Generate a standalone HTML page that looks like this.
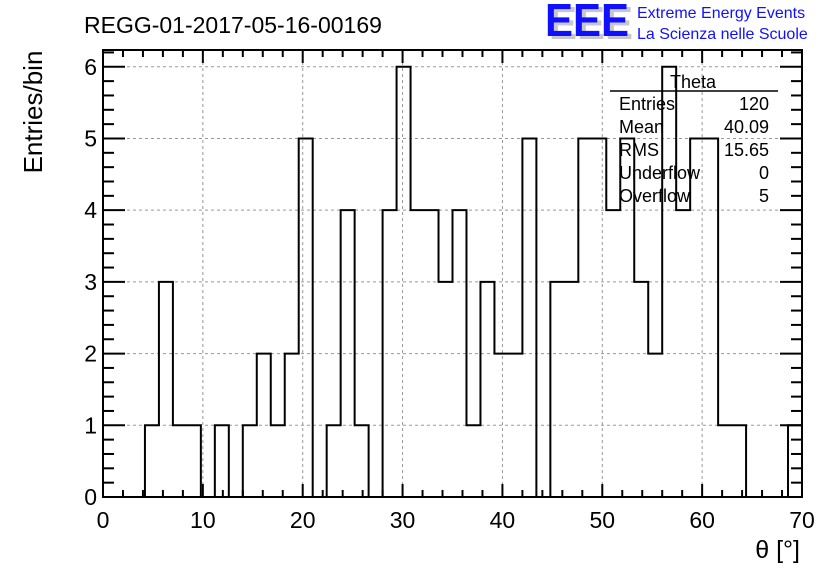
<!DOCTYPE html>
<html><head><meta charset="utf-8"><style>
html,body{margin:0;padding:0;background:#fff;}
svg{display:block;font-family:"Liberation Sans",sans-serif;}
</style></head><body>
<svg id="chart" width="836" height="572" viewBox="0 0 836 572">
  <rect x="0" y="0" width="836" height="572" fill="#fff"/>
  <g id="grid"></g>
  <g id="ticks"></g>
  <path id="hist" fill="none" stroke="#000" stroke-width="2"/>
  <rect x="103" y="50" width="699" height="447" fill="none" stroke="#000" stroke-width="2"/>
  <g id="labels"></g>
  <text x="84" y="33" font-size="23">REGG-01-2017-05-16-00169</text>
  <text transform="translate(42,112) rotate(-90)" font-size="26" text-anchor="middle">Entries/bin</text>
  <text x="800" y="558" font-size="25" text-anchor="end">θ [°]</text>
  <g>
    <text x="549" y="39" font-size="46" fill="#c8c8c8" font-weight="bold" textLength="84" lengthAdjust="spacingAndGlyphs">EEE</text>
    <text x="545" y="36" font-size="46" fill="#1010ff" font-weight="bold" textLength="84" lengthAdjust="spacingAndGlyphs">EEE</text>
    <text x="637" y="18" font-size="16" fill="#1010ff">Extreme Energy Events</text>
    <text x="637" y="39" font-size="16" fill="#1010ff">La Scienza nelle Scuole</text>
  </g>
  <g font-size="18">
    <text x="693" y="88" text-anchor="middle">Theta</text>
    <line x1="610" y1="91" x2="778" y2="91" stroke="#000" stroke-width="1.5"/>
    <text x="619" y="110">Entries</text><text x="769" y="110" text-anchor="end">120</text>
    <text x="619" y="133">Mean</text><text x="769" y="133" text-anchor="end">40.09</text>
    <text x="619" y="156">RMS</text><text x="769" y="156" text-anchor="end">15.65</text>
    <text x="619" y="179">Underflow</text><text x="769" y="179" text-anchor="end">0</text>
    <text x="619" y="202">Overflow</text><text x="769" y="202" text-anchor="end">5</text>
  </g>
</svg>
<script>
const binCounts = [0,0,0,1,3,1,1,0,1,0,1,2,1,2,5,0,1,4,1,0,4,6,4,4,3,4,1,3,2,2,5,0,3,3,5,5,4,5,3,2,6,4,5,5,1,1,0,0,0,1];
const binWidth = [1.4];
const xTickLabels = ["0","10","20","30","40","50","60","70"];
const yTickLabels = ["0","1","2","3","4","5","6"];

const NS = "http://www.w3.org/2000/svg";
const X0 = 103, X1 = 802, Y0 = 497, Y1 = 50;
const xMin = 0, xMax = 70, yMin = 0, yMax = 6.234;
function sx(v){ return X0 + (v - xMin) / (xMax - xMin) * (X1 - X0); }
function sy(v){ return Y0 - (v - yMin) / (yMax - yMin) * (Y0 - Y1); }
function mk(tag, attrs, parent){
  const e = document.createElementNS(NS, tag);
  for (const k in attrs) e.setAttribute(k, attrs[k]);
  parent.appendChild(e);
  return e;
}
const grid = document.getElementById('grid');
const ticks = document.getElementById('ticks');
const labels = document.getElementById('labels');

xTickLabels.forEach(function(t){
  const v = parseFloat(t), x = sx(v);
  if (v > xMin && v < xMax) {
    const g = mk('line', {x1:x, y1:Y0, x2:x, y2:Y1, stroke:'#999', 'stroke-width':1, 'stroke-dasharray':'3,3'}, grid);
    
    
  }
  const lb = mk('text', {x:x, y:528, 'font-size':23, 'text-anchor':'middle'}, labels);
  lb.textContent = t;
  
  
});
yTickLabels.forEach(function(t){
  const v = parseFloat(t), y = sy(v);
  if (v > yMin) {
    const g = mk('line', {x1:X0, y1:y, x2:X1, y2:y, stroke:'#999', 'stroke-width':1, 'stroke-dasharray':'3,3'}, grid);
    
    
  }
  const lb = mk('text', {x:97, y:y + 8, 'font-size':23, 'text-anchor':'end'}, labels);
  lb.textContent = t;
  
  
});
// x ticks: major every 10, minor every 2
for (let v = 0; v <= 70; v += 2) {
  const x = sx(v), major = (v % 10 === 0), L = major ? 13 : 7;
  const a = mk('line', {x1:x, y1:Y0, x2:x, y2:Y0 - L, stroke:'#000', 'stroke-width':2}, ticks);
  
  
  const b = mk('line', {x1:x, y1:Y1, x2:x, y2:Y1 + L, stroke:'#000', 'stroke-width':2}, ticks);
  
  
}
// y ticks: major every 1, minor every 0.2
for (let i = 0; i <= 31; i++) {
  const v = i * 0.2; if (v > yMax) break;
  const y = sy(v), major = (i % 5 === 0), L = major ? 22 : 11;
  const a = mk('line', {x1:X0, y1:y, x2:X0 + L, y2:y, stroke:'#000', 'stroke-width':2}, ticks);
  
  
  const b = mk('line', {x1:X1, y1:y, x2:X1 - L, y2:y, stroke:'#000', 'stroke-width':2}, ticks);
  
  
}
// histogram step path
let d = 'M' + sx(0) + ',' + sy(0);
binCounts.forEach(function(c, i){
  const xa = sx(i * binWidth[0]), xb = sx((i + 1) * binWidth[0]);
  d += ' L' + xa + ',' + sy(c) + ' L' + xb + ',' + sy(c);
});
d += ' L' + sx(binCounts.length * binWidth[0]) + ',' + sy(0);
document.getElementById('hist').setAttribute('d', d);
</script>
</body></html>
